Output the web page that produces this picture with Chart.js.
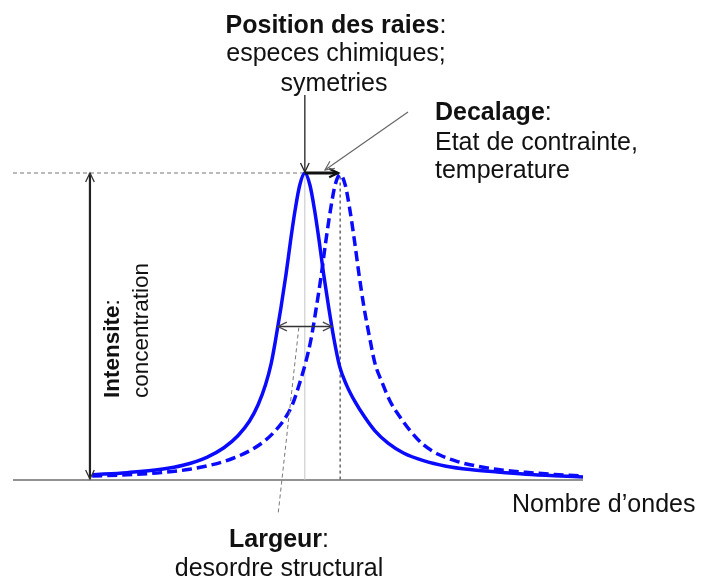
<!DOCTYPE html>
<html>
<head>
<meta charset="utf-8">
<script src="https://cdn.jsdelivr.net/npm/chart.js@4.4.1/dist/chart.umd.min.js"></script>
<style>
  html, body { margin: 0; padding: 0; background: #ffffff; }
  #wrap { width: 701px; height: 582px; }
</style>
</head>
<body>
<div id="wrap"><canvas id="c" width="701" height="582"></canvas></div>
<script>
// Wavenumber (arbitrary units) and normalised intensity
const solidX = [13.9, 20, 26, 30, 34, 37, 39.5, 41.5, 43, 44.3, 45.3, 46.1, 47.0, 47.9, 48.7, 49.5, 50.3, 51.2, 52.1, 52.9, 53.7, 54.5, 55.4, 56.3, 57.3, 58.5, 60.0, 61.7, 63.5, 65.8, 68.5, 72, 76, 80.2, 85, 90, 95, 100];
const solidY = [0.017, 0.024, 0.035, 0.049, 0.074, 0.105, 0.145, 0.192, 0.245, 0.310, 0.380, 0.460, 0.560, 0.670, 0.780, 0.880, 0.960, 1.000, 0.960, 0.880, 0.780, 0.670, 0.560, 0.460, 0.370, 0.310, 0.255, 0.205, 0.160, 0.120, 0.088, 0.063, 0.045, 0.034, 0.026, 0.019, 0.014, 0.010];
const dashedX = [13.9, 20, 26, 31, 35, 38.5, 41.5, 44, 46, 47.7, 49, 50.2, 51.3, 52.3, 53.2, 54.1, 54.9, 55.7, 56.5, 57.4, 58.3, 59.1, 59.9, 60.7, 61.6, 62.5, 63.5, 64.7, 66.2, 67.9, 69.7, 72, 74.7, 78, 82, 86, 90, 95, 100];
const dashedY = [0.013, 0.017, 0.024, 0.035, 0.050, 0.070, 0.095, 0.125, 0.160, 0.200, 0.245, 0.310, 0.380, 0.460, 0.560, 0.670, 0.780, 0.880, 0.960, 0.995, 0.960, 0.880, 0.780, 0.670, 0.560, 0.470, 0.380, 0.320, 0.255, 0.205, 0.160, 0.115, 0.083, 0.060, 0.043, 0.032, 0.025, 0.018, 0.013];

const xRange = [0, 100];
const yRange = [0, 1];
const intensityArrowX = 13.5;

const labels = {
  position: ['Position des raies', 'especes chimiques;', 'symetries'],
  decalage: ['Decalage', 'Etat de contrainte,', 'temperature'],
  largeur: ['Largeur', 'desordre structural'],
  intensite: ['Intensite', 'concentration'],
  axis: 'Nombre d\u2019ondes'
};

function toPoints(xs, ys) { return xs.map((x, i) => ({ x: x, y: ys[i] })); }
function argMax(a) { let m = 0; a.forEach((v, i) => { if (v > a[m]) m = i; }); return m; }
function crossing(xs, ys, level, side) {
  const p = argMax(ys);
  if (side === 'left') {
    for (let i = p; i > 0; i--) {
      if (ys[i - 1] <= level && ys[i] >= level) {
        return xs[i - 1] + (level - ys[i - 1]) / (ys[i] - ys[i - 1]) * (xs[i] - xs[i - 1]);
      }
    }
  } else {
    for (let i = p; i < ys.length - 1; i++) {
      if (ys[i] >= level && ys[i + 1] <= level) {
        return xs[i] + (ys[i] - level) / (ys[i] - ys[i + 1]) * (xs[i + 1] - xs[i]);
      }
    }
  }
  return xs[p];
}

const FONT = '"Liberation Sans", Arial, Helvetica, sans-serif';
const TXT = '#111111';
const FS = 25;
const FS_ROT = 22.5;

function line(ctx, x1, y1, x2, y2, color, width, dash) {
  ctx.save();
  ctx.strokeStyle = color; ctx.lineWidth = width;
  ctx.setLineDash(dash || []);
  ctx.beginPath(); ctx.moveTo(x1, y1); ctx.lineTo(x2, y2); ctx.stroke();
  ctx.restore();
}
function head(ctx, xFrom, yFrom, xTo, yTo, color, width, len) {
  const a = Math.atan2(yTo - yFrom, xTo - xFrom);
  const s = Math.PI / 7;
  ctx.save();
  ctx.strokeStyle = color; ctx.lineWidth = width; ctx.setLineDash([]);
  ctx.beginPath();
  ctx.moveTo(xTo - len * Math.cos(a - s), yTo - len * Math.sin(a - s));
  ctx.lineTo(xTo, yTo);
  ctx.lineTo(xTo - len * Math.cos(a + s), yTo - len * Math.sin(a + s));
  ctx.stroke();
  ctx.restore();
}
function mixed(ctx, boldPart, rest, x, y, size, align) {
  ctx.save();
  ctx.fillStyle = TXT; ctx.textBaseline = 'alphabetic'; ctx.textAlign = 'left';
  ctx.font = 'bold ' + size + 'px ' + FONT;
  const w1 = ctx.measureText(boldPart).width;
  ctx.font = size + 'px ' + FONT;
  const w2 = ctx.measureText(rest).width;
  let x0 = x;
  if (align === 'center') x0 = x - (w1 + w2) / 2;
  ctx.font = 'bold ' + size + 'px ' + FONT;
  ctx.fillText(boldPart, x0, y);
  ctx.font = size + 'px ' + FONT;
  ctx.fillText(rest, x0 + w1, y);
  ctx.restore();
}
function text(ctx, s, x, y, size, align) {
  ctx.save();
  ctx.fillStyle = TXT; ctx.textBaseline = 'alphabetic'; ctx.textAlign = align || 'left';
  ctx.font = size + 'px ' + FONT;
  ctx.fillText(s, x, y);
  ctx.restore();
}

const annot = {
  id: 'annot',
  beforeDatasetsDraw(chart) {
    const ctx = chart.ctx, xs = chart.scales.x, ys = chart.scales.y, ca = chart.chartArea;
    const y0 = ys.getPixelForValue(0);
    const sp = argMax(solidY), dp = argMax(dashedY);
    const sx = xs.getPixelForValue(solidX[sp]);
    const dx = xs.getPixelForValue(dashedX[dp]);
    line(ctx, ca.left, y0, ca.right, y0, '#6e6e6e', 1.5);
    line(ctx, sx, ys.getPixelForValue(solidY[sp]), sx, y0, '#c4c4c4', 1);
    line(ctx, dx, ys.getPixelForValue(dashedY[dp]) + 2, dx, y0, '#666666', 1.5, [3, 3]);
    line(ctx, ca.left, ys.getPixelForValue(solidY[sp]), sx, ys.getPixelForValue(solidY[sp]), '#777777', 1.2, [4, 3]);
  },
  afterDatasetsDraw(chart) {
    const ctx = chart.ctx, xs = chart.scales.x, ys = chart.scales.y;
    const y0 = ys.getPixelForValue(0);
    const sp = argMax(solidY), dp = argMax(dashedY);
    const sx = xs.getPixelForValue(solidX[sp]);
    const sy = ys.getPixelForValue(solidY[sp]);
    const dx = xs.getPixelForValue(dashedX[dp]);

    // intensity double arrow
    const ax = xs.getPixelForValue(intensityArrowX);
    line(ctx, ax, sy, ax, y0 - 1, '#222222', 2.2);
    head(ctx, ax, y0, ax, sy, '#333333', 1.3, 10);
    head(ctx, ax, sy, ax, y0 - 1, '#333333', 1.3, 10);

    // width (FWHM) double arrow
    const hl = xs.getPixelForValue(crossing(solidX, solidY, 0.5, 'left'));
    const hr = xs.getPixelForValue(crossing(solidX, solidY, 0.5, 'right'));
    const hy = ys.getPixelForValue(0.5);
    line(ctx, hl, hy, hr, hy, '#333333', 1.5);
    head(ctx, hr, hy, hl, hy, '#444444', 1.2, 10);
    head(ctx, hl, hy, hr, hy, '#444444', 1.2, 10);

    // Largeur pointer
    line(ctx, hl + 21, hy + 1, 278, 515, '#777777', 1, [4, 3]);

    // position arrow
    line(ctx, sx, 95, sx, sy - 1, '#222222', 1.3);
    head(ctx, sx, 95, sx, sy - 1, '#222222', 1.3, 10);

    // shift arrow
    line(ctx, sx, sy, dx - 3, sy, '#111111', 3);
    head(ctx, sx, sy, dx - 2, sy, '#111111', 2.2, 10);

    // decalage pointer
    line(ctx, 408, 112, 325, 170, '#666666', 1.2);
    head(ctx, 408, 112, 325, 170, '#666666', 1.2, 10);

    // texts
    mixed(ctx, labels.position[0], ':', 336, 33, FS, 'center');
    text(ctx, labels.position[1], 336, 61, FS, 'center');
    text(ctx, labels.position[2], 334, 91, FS, 'center');

    mixed(ctx, labels.decalage[0], ':', 435, 120, FS, 'left');
    text(ctx, labels.decalage[1], 435, 150, FS, 'left');
    text(ctx, labels.decalage[2], 435, 178, FS, 'left');

    mixed(ctx, labels.largeur[0], ':', 279, 547, FS, 'center');
    text(ctx, labels.largeur[1], 279, 576, FS, 'center');

    text(ctx, labels.axis, 512, 512, FS, 'left');

    ctx.save();
    ctx.translate(119, 398);
    ctx.rotate(-Math.PI / 2);
    mixed(ctx, labels.intensite[0], ':', 0, 0, FS_ROT, 'left');
    ctx.restore();
    ctx.save();
    ctx.translate(148, 398);
    ctx.rotate(-Math.PI / 2);
    text(ctx, labels.intensite[1], 0, 0, FS_ROT, 'left');
    ctx.restore();
  }
};

new Chart(document.getElementById('c'), {
  type: 'line',
  data: {
    datasets: [
      {
        label: 'raie',
        data: toPoints(solidX, solidY),
        borderColor: '#0a0aff',
        borderWidth: 3.5,
        pointRadius: 0,
        fill: false,
        cubicInterpolationMode: 'monotone',
        clip: false
      },
      {
        label: 'raie decalee',
        data: toPoints(dashedX, dashedY),
        borderColor: '#0a0aff',
        borderWidth: 3.5,
        borderDash: [10, 5],
        pointRadius: 0,
        fill: false,
        cubicInterpolationMode: 'monotone',
        clip: false
      }
    ]
  },
  options: {
    responsive: false,
    animation: false,
    devicePixelRatio: 1,
    layout: { padding: { left: 13, right: 118, top: 173, bottom: 102 } },
    plugins: { legend: { display: false }, title: { display: false }, tooltip: { enabled: false } },
    scales: {
      x: { type: 'linear', min: xRange[0], max: xRange[1], display: false },
      y: { type: 'linear', min: yRange[0], max: yRange[1], display: false }
    }
  },
  plugins: [annot]
});
</script>
</body>
</html>
